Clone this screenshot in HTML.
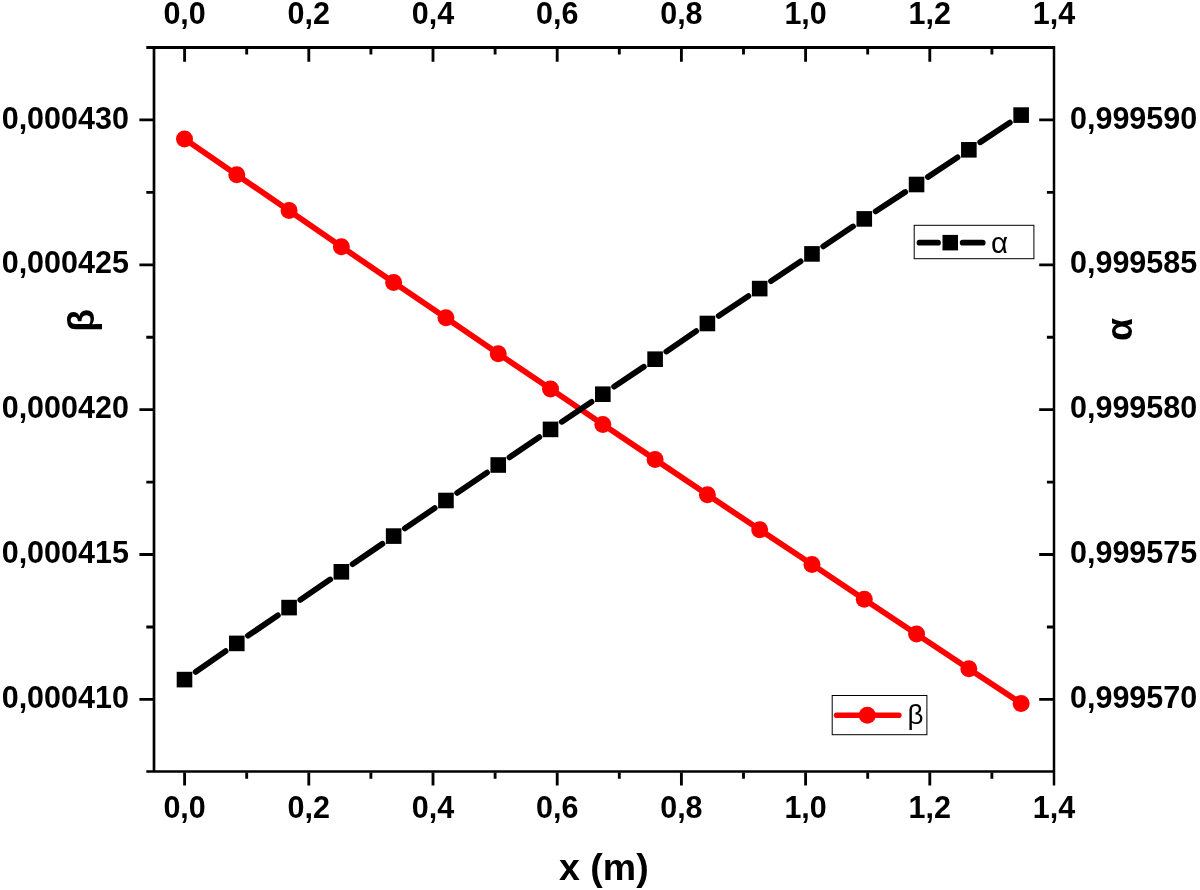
<!DOCTYPE html>
<html lang="en"><head><meta charset="utf-8"><title>alpha beta vs x</title>
<style>html,body{margin:0;padding:0;background:#fff}body{width:1200px;height:890px;overflow:hidden}svg{display:block}
text{font-family:"Liberation Sans", Arial, Helvetica, sans-serif;fill:#000}.t{font-size:30.5px;font-weight:700}.ax{font-size:37.5px;font-weight:700}.lg{font-size:29.5px;font-weight:400}
</style></head><body>
<svg width="1200" height="890" viewBox="0 0 1200 890">
<rect width="1200" height="890" fill="#fff"/>
<g stroke="#000" fill="none" stroke-linecap="butt">
<path stroke-width="3" d="M146.3 47.60H1054.00"/>
<path stroke-width="2.5" d="M146.3 771.55H1054.00"/>
<path stroke-width="2.7" d="M154.00 47.60V771.55"/>
<path stroke-width="2.5" d="M1054.00 46.10V785.6"/>
<path stroke-width="2.85" d="M184.60 48.60V61.80M184.60 772.50V785.60M308.80 48.60V61.80M308.80 772.50V785.60M433.00 48.60V61.80M433.00 772.50V785.60M557.20 48.60V61.80M557.20 772.50V785.60M681.40 48.60V61.80M681.40 772.50V785.60M805.60 48.60V61.80M805.60 772.50V785.60M929.80 48.60V61.80M929.80 772.50V785.60M246.70 48.60V54.40M246.70 772.50V778.70M370.90 48.60V54.40M370.90 772.50V778.70M495.10 48.60V54.40M495.10 772.50V778.70M619.30 48.60V54.40M619.30 772.50V778.70M743.50 48.60V54.40M743.50 772.50V778.70M867.70 48.60V54.40M867.70 772.50V778.70M991.90 48.60V54.40M991.90 772.50V778.70M153.00 119.90H139.40M1053.00 119.90H1039.20M153.00 264.80H139.40M1053.00 264.80H1039.20M153.00 409.65H139.40M1053.00 409.65H1039.20M153.00 554.50H139.40M1053.00 554.50H1039.20M153.00 699.40H139.40M1053.00 699.40H1039.20M153.00 192.40H146.30M1053.00 192.40H1046.90M153.00 337.20H146.30M1053.00 337.20H1046.90M153.00 482.10H146.30M1053.00 482.10H1046.90M153.00 627.00H146.30M1053.00 627.00H1046.90"/>
</g>
<g stroke="#f00" fill="#f00">
<polyline fill="none" stroke-width="5.8" stroke-linejoin="round" stroke-linecap="round" points="184.50,138.90 236.79,174.80 289.08,210.60 341.37,246.70 393.66,282.40 445.95,317.80 498.24,353.70 550.53,388.90 602.82,424.40 655.11,459.50 707.40,494.70 759.69,529.70 811.98,564.40 864.27,599.30 916.56,634.10 968.85,668.80 1021.14,703.40"/>
<circle cx="184.50" cy="138.90" r="8.5" stroke="none"/>
<circle cx="236.79" cy="174.80" r="8.5" stroke="none"/>
<circle cx="289.08" cy="210.60" r="8.5" stroke="none"/>
<circle cx="341.37" cy="246.70" r="8.5" stroke="none"/>
<circle cx="393.66" cy="282.40" r="8.5" stroke="none"/>
<circle cx="445.95" cy="317.80" r="8.5" stroke="none"/>
<circle cx="498.24" cy="353.70" r="8.5" stroke="none"/>
<circle cx="550.53" cy="388.90" r="8.5" stroke="none"/>
<circle cx="602.82" cy="424.40" r="8.5" stroke="none"/>
<circle cx="655.11" cy="459.50" r="8.5" stroke="none"/>
<circle cx="707.40" cy="494.70" r="8.5" stroke="none"/>
<circle cx="759.69" cy="529.70" r="8.5" stroke="none"/>
<circle cx="811.98" cy="564.40" r="8.5" stroke="none"/>
<circle cx="864.27" cy="599.30" r="8.5" stroke="none"/>
<circle cx="916.56" cy="634.10" r="8.5" stroke="none"/>
<circle cx="968.85" cy="668.80" r="8.5" stroke="none"/>
<circle cx="1021.14" cy="703.40" r="8.5" stroke="none"/>
</g>
<g stroke="#000" fill="#000">
<path fill="none" stroke-width="5.8" stroke-linecap="round" d="M195.68 671.86L225.61 651.14M248.01 635.72L277.86 615.28M300.30 599.92L330.15 579.48M352.60 564.13L382.43 543.77M404.90 528.45L434.71 508.15M457.20 492.86L486.99 472.64M509.48 457.35L539.29 437.05M561.81 421.81L591.54 401.79M614.12 386.64L643.81 366.76M666.34 351.53L696.17 331.17M718.71 315.95L748.38 296.15M771.02 281.08L800.65 261.42M823.28 246.34L852.97 226.46M875.63 211.43L905.20 191.97M927.89 176.98L957.52 157.32M980.18 142.28L1009.81 122.62"/>
<rect x="176.70" y="671.80" width="15.6" height="15.6" stroke="none"/>
<rect x="228.99" y="635.60" width="15.6" height="15.6" stroke="none"/>
<rect x="281.28" y="599.80" width="15.6" height="15.6" stroke="none"/>
<rect x="333.57" y="564.00" width="15.6" height="15.6" stroke="none"/>
<rect x="385.86" y="528.30" width="15.6" height="15.6" stroke="none"/>
<rect x="438.15" y="492.70" width="15.6" height="15.6" stroke="none"/>
<rect x="490.44" y="457.20" width="15.6" height="15.6" stroke="none"/>
<rect x="542.73" y="421.60" width="15.6" height="15.6" stroke="none"/>
<rect x="595.02" y="386.40" width="15.6" height="15.6" stroke="none"/>
<rect x="647.31" y="351.40" width="15.6" height="15.6" stroke="none"/>
<rect x="699.60" y="315.70" width="15.6" height="15.6" stroke="none"/>
<rect x="751.89" y="280.80" width="15.6" height="15.6" stroke="none"/>
<rect x="804.18" y="246.10" width="15.6" height="15.6" stroke="none"/>
<rect x="856.47" y="211.10" width="15.6" height="15.6" stroke="none"/>
<rect x="908.76" y="176.70" width="15.6" height="15.6" stroke="none"/>
<rect x="961.05" y="142.00" width="15.6" height="15.6" stroke="none"/>
<rect x="1013.34" y="107.30" width="15.6" height="15.6" stroke="none"/>
</g>
<rect x="914.2" y="225.3" width="119.7" height="33.4" fill="#fff" stroke="#000" stroke-width="1"/>
<path d="M919.5 242.7H938M962.7 242.7H982.7" stroke="#000" stroke-width="5.8" stroke-linecap="round" fill="none"/>
<rect x="942.5" y="234.9" width="15.5" height="15.5" fill="#000"/>
<text class="lg" x="991" y="252.9">α</text>
<rect x="832.2" y="695.5" width="94.7" height="39.2" fill="#fff" stroke="#000" stroke-width="1"/>
<path d="M836.6 715.3H898.8" stroke="#f00" stroke-width="5.6" stroke-linecap="round" fill="none"/>
<circle cx="867.3" cy="715.3" r="8.5" fill="#f00"/>
<text class="lg" style="font-size:27.3px" transform="translate(907.6 724.2) scale(1.02 1)">β</text>
<text class="t" text-anchor="middle" x="184.60" y="24.0">0,0</text>
<text class="t" text-anchor="middle" x="184.60" y="818.4">0,0</text>
<text class="t" text-anchor="middle" x="308.80" y="24.0">0,2</text>
<text class="t" text-anchor="middle" x="308.80" y="818.4">0,2</text>
<text class="t" text-anchor="middle" x="433.00" y="24.0">0,4</text>
<text class="t" text-anchor="middle" x="433.00" y="818.4">0,4</text>
<text class="t" text-anchor="middle" x="557.20" y="24.0">0,6</text>
<text class="t" text-anchor="middle" x="557.20" y="818.4">0,6</text>
<text class="t" text-anchor="middle" x="681.40" y="24.0">0,8</text>
<text class="t" text-anchor="middle" x="681.40" y="818.4">0,8</text>
<text class="t" text-anchor="middle" x="805.60" y="24.0">1,0</text>
<text class="t" text-anchor="middle" x="805.60" y="818.4">1,0</text>
<text class="t" text-anchor="middle" x="929.80" y="24.0">1,2</text>
<text class="t" text-anchor="middle" x="929.80" y="818.4">1,2</text>
<text class="t" text-anchor="middle" x="1054.00" y="24.0">1,4</text>
<text class="t" text-anchor="middle" x="1054.00" y="818.4">1,4</text>
<text class="t" text-anchor="end" x="128.9" y="128.50">0,000430</text>
<text class="t" text-anchor="start" x="1070.0" y="128.50">0,999590</text>
<text class="t" text-anchor="end" x="128.9" y="273.40">0,000425</text>
<text class="t" text-anchor="start" x="1070.0" y="273.40">0,999585</text>
<text class="t" text-anchor="end" x="128.9" y="418.25">0,000420</text>
<text class="t" text-anchor="start" x="1070.0" y="418.25">0,999580</text>
<text class="t" text-anchor="end" x="128.9" y="563.10">0,000415</text>
<text class="t" text-anchor="start" x="1070.0" y="563.10">0,999575</text>
<text class="t" text-anchor="end" x="128.9" y="708.00">0,000410</text>
<text class="t" text-anchor="start" x="1070.0" y="708.00">0,999570</text>
<text class="ax" text-anchor="middle" x="603.9" y="879.8">x (m)</text>
<text class="ax" text-anchor="middle" transform="translate(93.7 320.4) rotate(-90)">β</text>
<text class="ax" text-anchor="middle" transform="translate(1132.3 329.5) rotate(-90)">α</text>
</svg></body></html>
